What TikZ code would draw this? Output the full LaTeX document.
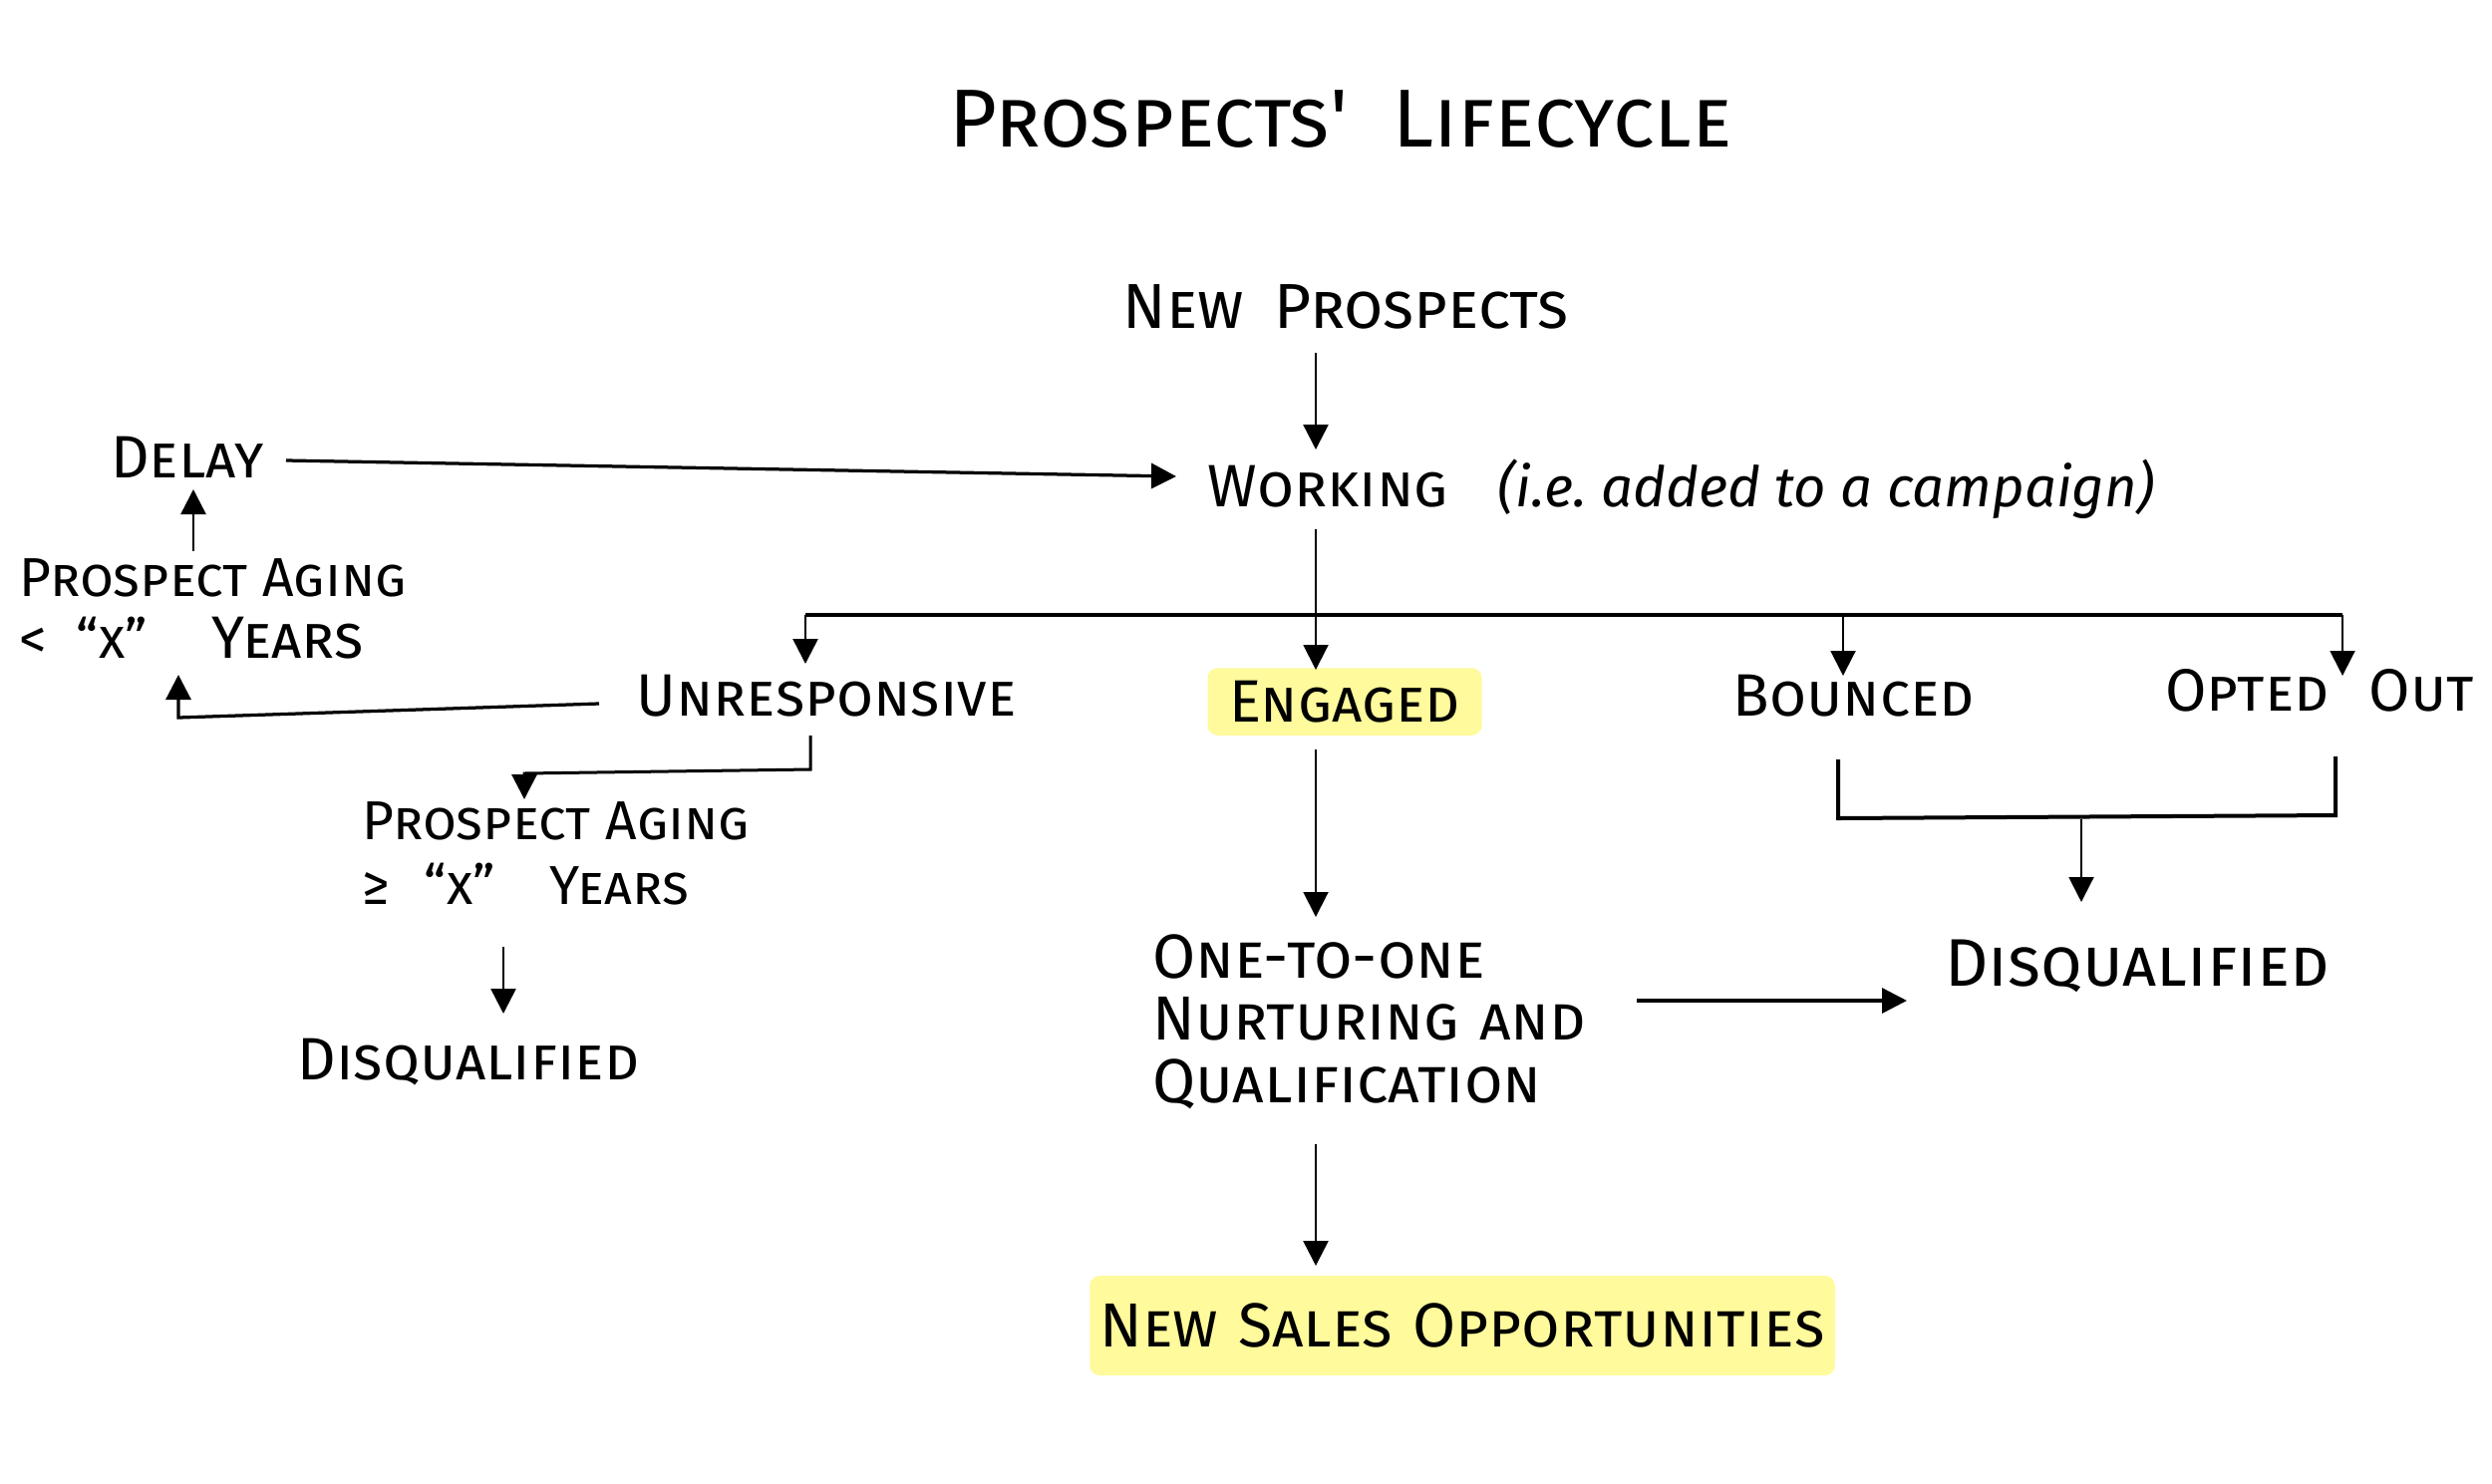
\documentclass[tikz,border=0pt]{standalone}
\usepackage{fontspec}
\setmainfont{Fira Sans}
\usetikzlibrary{arrows.meta}
\definecolor{hl}{RGB}{255,250,155}
\begin{document}
\begin{tikzpicture}[x=0.4pt,y=-0.4pt,
  lbl/.style={inner sep=0pt, font=\scshape\fontsize{24}{28}\selectfont},
  small/.style={inner sep=0pt, align=left, font=\scshape\fontsize{22}{25}\selectfont},
  arr/.style={-{Triangle[width=10pt,length=10pt]}, line width=1pt},
  thick line/.style={line width=1.6pt},
  hlbox/.style={fill=hl, rounded corners=4pt}]
\useasboundingbox (0,0) rectangle (2500,1488);

% texts
\node[inner sep=0pt, font=\scshape\fontsize{33}{38}\selectfont] (title) at (1345,120) {Prospects\textquotesingle\hspace{18pt}Lifecycle};
\node[lbl, font=\scshape\fontsize{25.5}{30}\selectfont] (newp) at (1350,308) {New\hspace{12pt}Prospects};
\node[lbl, anchor=west] (work) at (1211,491) {Working\hspace{20pt}{\normalfont\itshape\fontsize{22.5}{26}\selectfont (i.e.\ added to a campaign)}};
\node[lbl] (delay) at (188,459) {Delay};
\node[small, anchor=west] (pal) at (19,611) {Prospect Aging\\<\hspace{12pt}“x”\hspace{26pt}\fontsize{24}{25}\selectfont Years};
\node[lbl] (unresp) at (829,698) {Unresponsive};
\node[lbl, hlbox, minimum width=110pt, minimum height=27pt] (eng) at (1349,704) {Engaged};
\node[lbl] (bounced) at (1860,698) {Bounced};
\node[lbl] (opted) at (2327,693) {Opted\hspace{16pt}Out};
\node[small, anchor=west, font=\scshape\fontsize{22}{26}\selectfont] (pag) at (363,856) {Prospect\hspace{6pt}Aging\\≥\hspace{14pt}“x”\hspace{22pt}Years};
\node[lbl] (disq1) at (470,1066) {Disqualified};
\node[small, anchor=west, font=\scshape\fontsize{25}{25}\selectfont] (oto) at (1156,1025) {One-to-one\\Nurturing\hspace{8pt}and\\Qualification};
\node[lbl, font=\scshape\fontsize{27}{32}\selectfont] (disq2) at (2144,969) {Disqualified};
\node[lbl, hlbox, minimum width=299pt, minimum height=40pt, font=\scshape\fontsize{25}{30}\selectfont] (nso) at (1467,1330) {New\hspace{8pt}Sales\hspace{8pt}Opportunities};

% connector end points
\coordinate (np1) at (1320,354);  \coordinate (wk1) at (1320,451);
\coordinate (dl1) at (287,462);   \coordinate (wk2) at (1180,478);
\coordinate (pa1) at (194,553);   \coordinate (dl2) at (194,491);
\coordinate (ur1) at (601,706);   \coordinate (ur2) at (179,720); \coordinate (pa2) at (179,677);
\coordinate (wk3) at (1320,531);  \coordinate (en1) at (1320,672);
\coordinate (bl) at (808,617);    \coordinate (br) at (2350,617);
\coordinate (ur0) at (808,666);
\coordinate (bx) at (1849,617);   \coordinate (bo1) at (1849,678);
\coordinate (op1) at (2350,678);
\coordinate (ur3) at (813,738);   \coordinate (ur4) at (813,772); \coordinate (pg0) at (526,776); \coordinate (pg1) at (526,802);
\coordinate (pg2) at (505,950);   \coordinate (dq1) at (505,1017);
\coordinate (en2) at (1320,752);  \coordinate (ot1) at (1320,920);
\coordinate (ot2) at (1320,1148); \coordinate (ns1) at (1320,1270);
\coordinate (ot3) at (1642,1004); \coordinate (dq2) at (1913,1004);
\coordinate (bk1) at (1844,762);  \coordinate (bk2) at (1844,821);
\coordinate (bk3) at (2343,818);  \coordinate (bk4) at (2343,759);
\coordinate (bkm) at (2088,822);  \coordinate (dq3) at (2088,905);

% connectors
\draw[arr] (np1) -- (wk1);
\draw[arr, line width=1.3pt] (dl1) -- (wk2);
\draw[arr] (pa1) -- (dl2);
\draw[arr, line width=1.3pt] (ur1) -- (ur2) -- (pa2);
\draw[arr, line width=0.8pt] (wk3) -- (en1);
\draw[thick line] (bl) -- (br);
\draw[arr] (bl) -- (ur0);
\draw[arr, line width=0.8pt] (bx) -- (bo1);
\draw[arr, line width=0.8pt] (br) -- (op1);
\draw[arr, line width=1.2pt] (ur3) -- (ur4) -- (pg0) -- (pg1);
\draw[arr] (pg2) -- (dq1);
\draw[arr, line width=0.8pt] (en2) -- (ot1);
\draw[arr] (ot2) -- (ns1);
\draw[arr, line width=1.4pt] (ot3) -- (dq2);
\draw[thick line] (bk1) -- (bk2) -- (bk3) -- (bk4);
\draw[arr, line width=0.8pt] (bkm) -- (dq3);
\end{tikzpicture}
\end{document}
